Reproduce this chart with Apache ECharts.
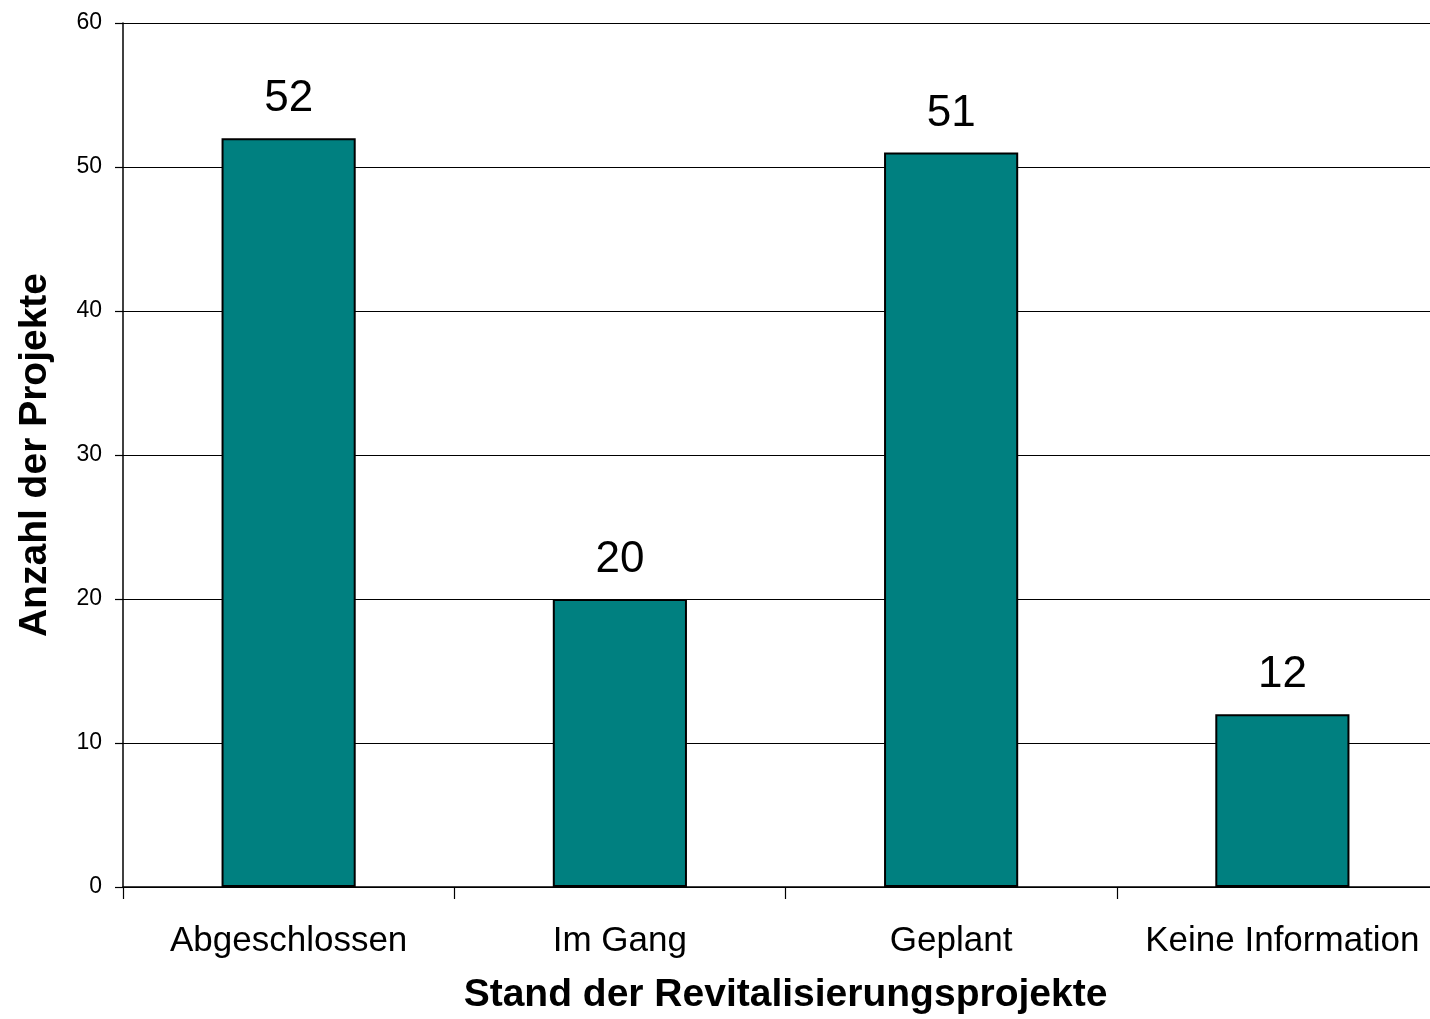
<!DOCTYPE html>
<html>
<head>
<meta charset="utf-8">
<script src="https://cdn.jsdelivr.net/npm/echarts@6/dist/echarts.min.js"></script>
<style>
html,body{margin:0;padding:0;background:#fff;}
#chart{width:1430px;height:1019px;}
</style>
</head>
<body>
<div id="chart"></div>
<script>
const categories = ["Abgeschlossen", "Im Gang", "Geplant", "Keine Information"];
const values = [52, 20, 51, 12];
const yTicks = [0, 10, 20, 30, 40, 50, 60];
const xTitle = "Stand der Revitalisierungsprojekte";
const yTitle = "Anzahl der Projekte";

const FONT = "'Liberation Sans', Arial, sans-serif";
const chart = echarts.init(document.getElementById('chart'), null, {renderer: 'canvas'});
chart.setOption({
  animation: false,
  backgroundColor: '#ffffff',
  grid: {left: 123, top: 23, width: 1325, height: 864, containLabel: false, outerBoundsMode: 'none'},
  xAxis: {
    type: 'category',
    data: categories,
    name: xTitle,
    nameLocation: 'middle',
    nameGap: 89,
    nameTextStyle: {fontFamily: FONT, fontSize: 39, fontWeight: 'bold', color: '#000'},
    axisLine: {lineStyle: {color: '#000', width: 1.5}},
    axisTick: {show: true, alignWithLabel: false, length: 12, lineStyle: {color: '#000', width: 1.2}},
    axisLabel: {fontFamily: FONT, fontSize: 35, color: '#000', margin: 37, interval: 0},
    splitLine: {show: false}
  },
  yAxis: {
    type: 'value',
    min: yTicks[0],
    max: yTicks[yTicks.length - 1],
    interval: 10,
    name: yTitle,
    nameLocation: 'middle',
    nameGap: 68,
    nameRotate: 90,
    nameTextStyle: {fontFamily: FONT, fontSize: 39, fontWeight: 'bold', color: '#000'},
    axisLine: {show: true, lineStyle: {color: '#000', width: 1.5}},
    axisTick: {show: true, length: 8, lineStyle: {color: '#000', width: 1.2}},
    axisLabel: {fontFamily: FONT, fontSize: 23, color: '#000', margin: 21},
    splitLine: {show: true, lineStyle: {color: '#000', width: 1}}
  },
  series: [{
    type: 'bar',
    data: values,
    barWidth: '40.5%',
    itemStyle: {color: '#008080', borderColor: '#000', borderWidth: 2},
    label: {show: true, position: 'top', distance: 17, fontFamily: FONT, fontSize: 44, color: '#000'}
  }]
});
</script>
</body>
</html>
